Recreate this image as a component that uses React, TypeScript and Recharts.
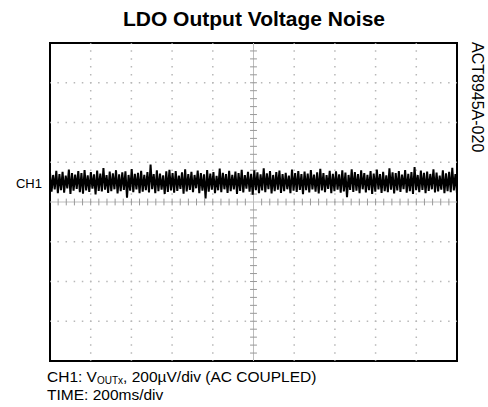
import React from "react";
import { ComposedChart, Line, XAxis, YAxis, ReferenceLine, ReferenceArea } from "recharts";

// Noise trace, CH1 (µV), sampled across 2000 ms (200 ms/div × 10 div)
const noiseUv = [
  148, 52, 136, 63, 157, 44, 141, 60, 152, 47, 133, 68, 163, 41, 145, 57, 138, 66, 155, 49,
  146, 42, 161, 58, 134, 51, 150, 67, 139, 38, 158, 56, 143, 53, 171, 62, 135, 46, 153, 55,
  144, 64, 160, 43, 139, 54, 149, 61, 154, 22, 136, 57, 166, 50, 142, 63, 147, 45, 157, 52,
  137, 59, 151, 48, 188, 65, 140, 44, 159, 55, 143, 62, 134, 40, 154, 51, 162, 58, 145, 47,
  156, 56, 133, 66, 149, 42, 165, 53, 141, 61, 152, 49, 136, 69, 158, 45, 146, 57, 139, 18,
  161, 52, 143, 62, 150, 44, 131, 59, 168, 50, 147, 64, 140, 46, 157, 55, 137, 63, 153, 41,
  145, 56, 162, 48, 135, 67, 152, 52, 142, 37, 159, 60, 149, 45, 139, 58, 170, 50, 144, 65,
  155, 43, 136, 55, 151, 62, 158, 46, 141, 54, 147, 64, 133, 44, 163, 57, 146, 51, 156, 61,
  140, 39, 153, 59, 143, 48, 161, 63, 138, 52, 149, 43, 167, 58, 145, 50, 135, 66, 157, 45,
  142, 55, 154, 62, 139, 47, 160, 53, 148, 24, 136, 61, 165, 51, 150, 57, 141, 44, 159, 64,
  146, 48, 137, 60, 156, 41, 143, 52, 163, 63, 140, 46, 152, 55, 134, 50, 169, 62, 149, 43,
  145, 58, 155, 51, 138, 65, 161, 47, 142, 54, 151, 40, 176, 60, 136, 49, 158, 61, 147, 44,
  153, 56, 141, 64, 164, 48, 148, 53, 133, 62, 159, 45, 144, 55, 152, 50, 172, 58, 140, 42,
];

const timeSpanMs = 2000;
const voltSpanUv = 800;

// Major divisions (dotted grid)
const xMajor = [200, 400, 600, 800, 1200, 1400, 1600, 1800];
const yMajor = [-600, -400, -200, 200, 400, 600];

// Minor divisions on center graticule axes
const xMinor = [
  40, 80, 120, 160, 200, 240, 280, 320, 360, 400, 440, 480, 520, 560, 600, 640, 680, 720, 760,
  800, 840, 880, 920, 960, 1040, 1080, 1120, 1160, 1200, 1240, 1280, 1320, 1360, 1400, 1440,
  1480, 1520, 1560, 1600, 1640, 1680, 1720, 1760, 1800, 1840, 1880, 1920, 1960,
];
const yMinor = [
  -760, -720, -680, -640, -600, -560, -520, -480, -440, -400, -360, -320, -280, -240, -200,
  -160, -120, -80, -40, 40, 80, 120, 160, 200, 240, 280, 320, 360, 400, 440, 480, 520, 560,
  600, 640, 680, 720, 760,
];

const traceData = noiseUv.map((v, i) => ({ t: (i * timeSpanMs) / (noiseUv.length - 1), v }));

const FONT = "'Liberation Sans', Arial, Helvetica, sans-serif";

export default function App() {
  return (
    <div style={{ position: "absolute", left: 0, top: 0, width: 488, height: 407, background: "#fff" }}>
      <ComposedChart
        width={488}
        height={407}
        margin={{ top: 43, left: 50, right: 31, bottom: 46 }}
      >
        <XAxis dataKey="t" type="number" domain={[0, timeSpanMs]} hide allowDataOverflow />
        <YAxis type="number" domain={[-voltSpanUv, voltSpanUv]} hide allowDataOverflow />
        {xMajor.map((x) => (
          <ReferenceLine
            key={"gx" + x}
            x={x}
            stroke="#b8b8b8"
            strokeWidth={1.5}
            strokeDasharray="1.5 6.45"
            strokeDashoffset={0.75}
          />
        ))}
        {yMajor.map((y) => (
          <ReferenceLine
            key={"gy" + y}
            y={y}
            stroke="#b8b8b8"
            strokeWidth={1.5}
            strokeDasharray="1.5 6.64"
            strokeDashoffset={0.75}
          />
        ))}
        <ReferenceLine x={timeSpanMs / 2} stroke="#bdbdbd" strokeWidth={1} />
        <ReferenceLine y={0} stroke="#bdbdbd" strokeWidth={1} />
        {xMinor.map((x) => (
          <ReferenceLine
            key={"tx" + x}
            segment={[{ x, y: -17 }, { x, y: 17 }]}
            stroke="#999"
            strokeWidth={1}
          />
        ))}
        {yMinor.map((y) => (
          <ReferenceLine
            key={"ty" + y}
            segment={[{ x: 983, y }, { x: 1017, y }]}
            stroke="#999"
            strokeWidth={1}
          />
        ))}
        <Line
          data={traceData}
          dataKey="v"
          type="linear"
          stroke="#000"
          strokeWidth={2}
          dot={false}
          activeDot={false}
          isAnimationActive={false}
        />
        <ReferenceArea
          x1={0}
          x2={timeSpanMs}
          y1={-voltSpanUv}
          y2={voltSpanUv}
          fill="none"
          stroke="#000"
          strokeWidth={2}
          ifOverflow="visible"
        />
      </ComposedChart>
      <svg
        width={488}
        height={407}
        style={{ position: "absolute", left: 0, top: 0, pointerEvents: "none" }}
        fontFamily={FONT}
      >
        <text x={254} y={26} textAnchor="middle" fontSize={21} fontWeight="bold" fill="#000">
          LDO Output Voltage Noise
        </text>
        <text x={42} y={188} textAnchor="end" fontSize={13} fill="#000">
          CH1
        </text>
        <text x={472} y={42} fontSize={16} fill="#000" transform="rotate(90 472 42)">
          ACT8945A-020
        </text>
        <text x={47} y={382} fontSize={15.5} fill="#000">
          CH1: V
          <tspan fontSize={10} dy={2}>OUTx</tspan>
          <tspan dy={-2}>, 200µV/div (AC COUPLED)</tspan>
        </text>
        <text x={47} y={400} fontSize={15.5} fill="#000">
          TIME: 200ms/div
        </text>
      </svg>
    </div>
  );
}
